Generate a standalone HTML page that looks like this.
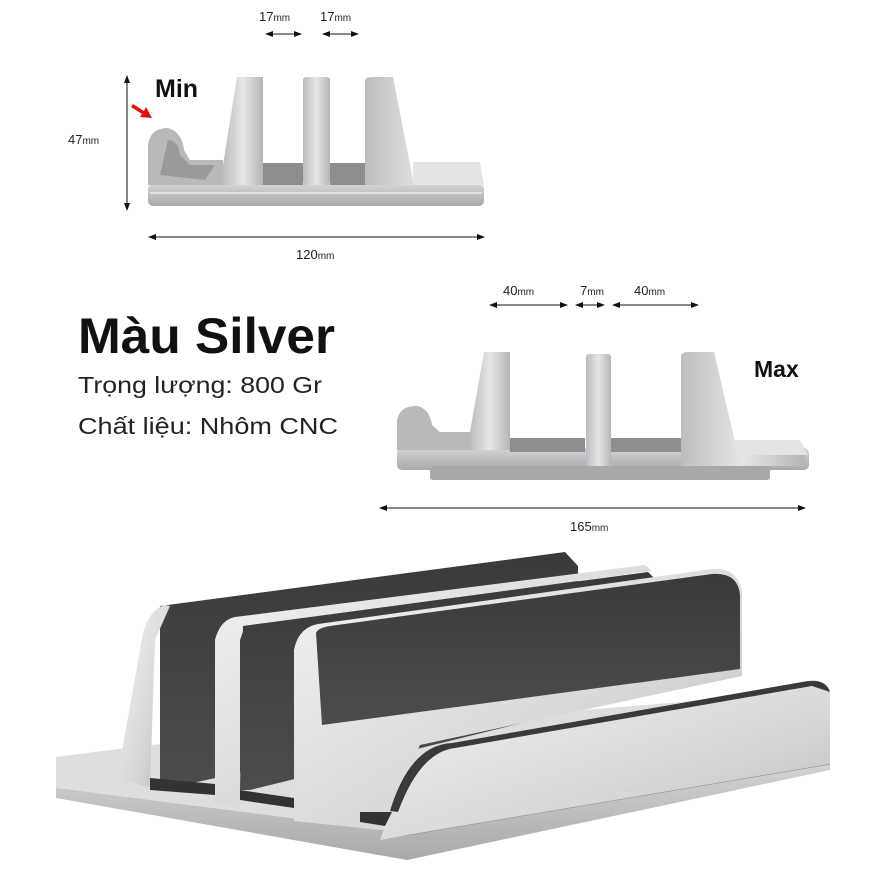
<!DOCTYPE html>
<html><head><meta charset="utf-8"><style>
html,body{margin:0;padding:0;background:#fff;}
body{width:885px;height:885px;overflow:hidden;position:relative;font-family:"Liberation Sans","DejaVu Sans",sans-serif;}
svg{position:absolute;left:0;top:0;}
</style></head><body>
<svg width="885" height="885" viewBox="0 0 885 885" xmlns="http://www.w3.org/2000/svg">
<defs>
<linearGradient id="sv" x1="0" y1="0" x2="0" y2="1"><stop offset="0" stop-color="#d4d4d6"/><stop offset="1" stop-color="#a9a9ac"/></linearGradient>
<linearGradient id="sv2" x1="0" y1="0" x2="1" y2="0"><stop offset="0" stop-color="#bdbdc0"/><stop offset="0.5" stop-color="#e6e6e8"/><stop offset="1" stop-color="#b5b5b8"/></linearGradient>
<linearGradient id="big" x1="0" y1="0" x2="1" y2="1"><stop offset="0" stop-color="#f2f2f3"/><stop offset="0.6" stop-color="#d8d8da"/><stop offset="1" stop-color="#b8b8bb"/></linearGradient>
<linearGradient id="dk" x1="0" y1="0" x2="0" y2="1"><stop offset="0" stop-color="#3a3a3c"/><stop offset="1" stop-color="#4c4c4e"/></linearGradient>
<marker id="ah" markerWidth="8" markerHeight="8" refX="7" refY="4" orient="auto-start-reverse"><path d="M0,1 L8,4 L0,7 Z" fill="#111"/></marker>
</defs>

<g>
<rect x="148" y="184" width="336" height="22" rx="5" fill="url(#sv)"/>
<line x1="150" y1="193" x2="482" y2="193" stroke="#eee" stroke-width="1.5"/>
<path d="M148 185 L148 145 Q150 128 168 128 Q182 132 184 150 L190 160 L223 160 L223 185 Z" fill="#b9b9bc"/>
<path d="M160 175 L168 140 Q178 140 180 155 L190 165 L215 165 L205 180 Z" fill="#9a9a9d"/>
<path d="M223 185 L223 165 L237 77 L263 77 L263 185 Z" fill="url(#sv2)"/>
<rect x="263" y="163" width="40" height="22" fill="#8e8e91"/>
<rect x="303" y="77" width="27" height="108" rx="3" fill="url(#sv2)"/>
<rect x="330" y="163" width="35" height="22" fill="#8e8e91"/>
<path d="M365 185 L365 80 Q366 77 372 77 L393 77 L413 180 L484 185 Z" fill="url(#sv2)"/>
<path d="M413 162 L480 162 L484 185 L413 185 Z" fill="#e4e4e6"/>
</g>
<line x1="127" y1="76" x2="127" y2="210" stroke="#111" stroke-width="1" marker-start="url(#ah)" marker-end="url(#ah)"/>
<line x1="149" y1="237" x2="484" y2="237" stroke="#111" stroke-width="1" marker-start="url(#ah)" marker-end="url(#ah)"/>
<line x1="266" y1="34" x2="301" y2="34" stroke="#111" stroke-width="1" marker-start="url(#ah)" marker-end="url(#ah)"/>
<line x1="323" y1="34" x2="358" y2="34" stroke="#111" stroke-width="1" marker-start="url(#ah)" marker-end="url(#ah)"/>
<text x="259" y="21" font-size="13" fill="#222" font-family="Liberation Sans, sans-serif">17<tspan font-size="10">mm</tspan></text>
<text x="320" y="21" font-size="13" fill="#222" font-family="Liberation Sans, sans-serif">17<tspan font-size="10">mm</tspan></text>
<text x="68" y="144" font-size="13" fill="#222" font-family="Liberation Sans, sans-serif">47<tspan font-size="10">mm</tspan></text>
<text x="296" y="259" font-size="13" fill="#222" font-family="Liberation Sans, sans-serif">120<tspan font-size="10">mm</tspan></text>
<text x="155" y="97" font-size="25" font-weight="bold" fill="#111" font-family="Liberation Sans, sans-serif">Min</text>
<path d="M133 104 L144 111 L146 107 L152 118 L140 117 L142 114 L131 107 Z" fill="#e01010"/>

<text x="78" y="353" font-size="50" font-weight="bold" fill="#111" textLength="257" lengthAdjust="spacingAndGlyphs" font-family="Liberation Sans, sans-serif">Màu Silver</text>
<text x="78" y="393" font-size="23" fill="#222" textLength="244" lengthAdjust="spacingAndGlyphs" font-family="Liberation Sans, sans-serif">Trọng lượng: 800 Gr</text>
<text x="78" y="434" font-size="23" fill="#222" textLength="260" lengthAdjust="spacingAndGlyphs" font-family="Liberation Sans, sans-serif">Chất liệu: Nhôm CNC</text>

<g>
<rect x="397" y="448" width="412" height="22" rx="5" fill="url(#sv)"/>
<rect x="430" y="466" width="340" height="14" rx="3" fill="#a8a8ab"/>
<path d="M397 450 L397 420 Q400 405 418 406 Q430 410 432 425 L440 432 L470 432 L470 450 Z" fill="#b9b9bc"/>
<path d="M470 450 L470 432 L484 352 L510 352 L510 450 Z" fill="url(#sv2)"/>
<rect x="510" y="438" width="75" height="14" fill="#8e8e91"/>
<rect x="586" y="354" width="25" height="112" rx="3" fill="url(#sv2)"/>
<rect x="611" y="438" width="70" height="14" fill="#8e8e91"/>
<path d="M681 466 L681 356 Q682 352 688 352 L714 352 L735 442 L805 448 L805 466 Z" fill="url(#sv2)"/>
<path d="M735 440 L800 440 L808 455 L735 455 Z" fill="#e4e4e6"/>
</g>
<line x1="490" y1="305" x2="567" y2="305" stroke="#111" stroke-width="1" marker-start="url(#ah)" marker-end="url(#ah)"/>
<line x1="576" y1="305" x2="604" y2="305" stroke="#111" stroke-width="1" marker-start="url(#ah)" marker-end="url(#ah)"/>
<line x1="613" y1="305" x2="698" y2="305" stroke="#111" stroke-width="1" marker-start="url(#ah)" marker-end="url(#ah)"/>
<line x1="380" y1="508" x2="805" y2="508" stroke="#111" stroke-width="1" marker-start="url(#ah)" marker-end="url(#ah)"/>
<text x="503" y="295" font-size="13" fill="#222" font-family="Liberation Sans, sans-serif">40<tspan font-size="10">mm</tspan></text>
<text x="580" y="295" font-size="13" fill="#222" font-family="Liberation Sans, sans-serif">7<tspan font-size="10">mm</tspan></text>
<text x="634" y="295" font-size="13" fill="#222" font-family="Liberation Sans, sans-serif">40<tspan font-size="10">mm</tspan></text>
<text x="570" y="531" font-size="13" fill="#222" font-family="Liberation Sans, sans-serif">165<tspan font-size="10">mm</tspan></text>
<text x="754" y="377" font-size="23" font-weight="bold" fill="#111" font-family="Liberation Sans, sans-serif">Max</text>

<g>
<path d="M56 757 L150 745 L830 690 L830 764 L407 835 L56 790 Z" fill="#dedee0"/>
<path d="M56 788 L407 833 L830 762 L830 770 L407 860 L56 798 Z" fill="url(#sv)"/>
<path d="M407 835 L830 764" stroke="#888" stroke-width="1"/>
<path d="M160 606 L565 552 L578 566 L578 700 L160 790 Z" fill="url(#dk)"/>
<path d="M121 757 L140 650 Q145 610 165 605 L170 606 L155 640 L150 787 L121 780 Z" fill="url(#big)"/>
<path d="M150 778 L215 784 L215 795 L150 790 Z" fill="#333"/>
<path d="M240 790 L294 798 L294 808 L240 800 Z" fill="#333"/>
<path d="M215 804 L215 640 Q220 620 235 617 L645 565 L652 571 L245 626 L240 640 L240 806 Z" fill="url(#big)"/>
<path d="M243 626 L648 572 L656 580 L656 690 L250 790 L240 790 Z" fill="url(#dk)"/>
<path d="M294 821 L294 650 Q298 628 318 624 L712 569 Q738 567 742 592 L742 676 L420 745 L400 790 L380 830 Z" fill="url(#big)"/>
<path d="M316 633 Q318 628 330 626 L712 574 Q738 572 740 595 L740 669 L322 725 Z" fill="url(#dk)"/>
<path d="M380 840 L390 811 Q410 745 452 743 L808 681 Q830 680 830 700 L830 764 L407 835 Z" fill="url(#big)"/>
<path d="M390 811 Q410 745 452 743 L808 681 Q826 679 830 692 L812 686 L455 748 Q420 752 398 812 Z" fill="#3a3a3c"/>
<path d="M360 812 L392 812 L385 826 L360 822 Z" fill="#333"/>
</g>
</svg>
</body></html>
